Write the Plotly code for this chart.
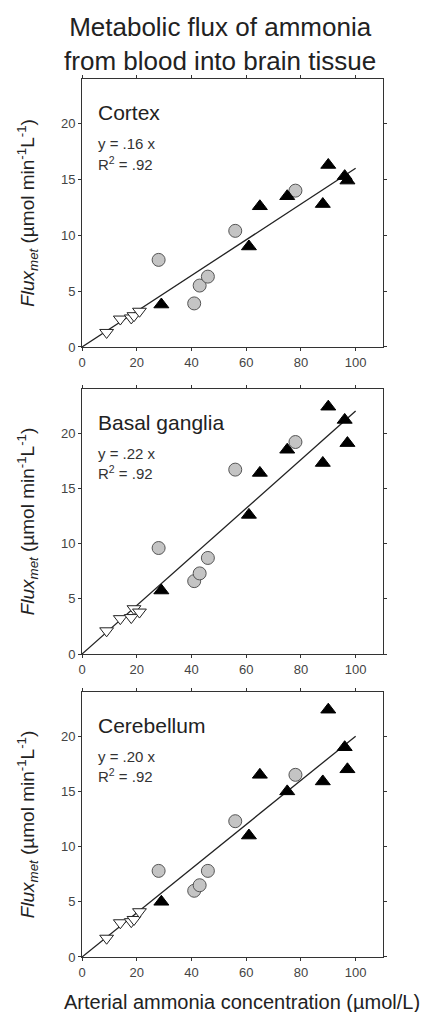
import plotly.graph_objects as go

# ---- data ----
regions = ["Cortex", "Basal ganglia", "Cerebellum"]
slopes = [0.16, 0.22, 0.20]
slope_labels = ["y = .16 x", "y = .22 x", "y = .20 x"]
r2_labels = ["R<sup>2</sup> = .92", "R<sup>2</sup> = .92", "R<sup>2</sup> = .92"]

x_open = [9, 14, 18, 19, 21]
y_open = [
    [1.3, 2.5, 2.6, 2.8, 3.2],
    [2.1, 3.2, 3.3, 4.1, 3.8],
    [1.7, 3.1, 3.2, 3.4, 4.1],
]

x_circ = [28, 41, 43, 46, 56, 78]
y_circ = [
    [7.8, 3.9, 5.5, 6.3, 10.4, 14.0],
    [9.6, 6.6, 7.3, 8.7, 16.7, 19.2],
    [7.8, 6.0, 6.5, 7.8, 12.3, 16.5],
]

x_tri = [29, 61, 65, 75, 88, 90, 96, 97]
y_tri = [
    [3.8, 9.0, 12.6, 13.5, 12.8, 16.3, 15.3, 14.9],
    [5.75, 12.6, 16.4, 18.5, 17.3, 22.4, 21.2, 19.1],
    [5.0, 11.0, 16.5, 15.0, 15.9, 22.4, 19.0, 17.0],
]

fit_x = [0, 100]
x_ticks = [0, 20, 40, 60, 80, 100]
y_ticks = [0, 5, 10, 15, 20]

# ---- layout constants (page has an 8px body margin) ----
W, H = 426, 1004
ML, MR, MT, MB = 74, 51, 71, 55
domains = [[0.6948, 1.0], [0.3451, 0.6469], [0.0, 0.3018]]
FONT = "Liberation Sans, Arial, Helvetica, sans-serif"
AX = "#333333"

fig = go.Figure()

for i in range(3):
    xa = "x" if i == 0 else f"x{i+1}"
    ya = "y" if i == 0 else f"y{i+1}"
    fig.add_trace(go.Scatter(
        x=fit_x, y=[slopes[i] * v for v in fit_x], mode="lines",
        line=dict(color="#222222", width=1.3), xaxis=xa, yaxis=ya,
        showlegend=False, hoverinfo="skip"))
    fig.add_trace(go.Scatter(
        x=x_open, y=y_open[i], mode="markers", xaxis=xa, yaxis=ya,
        marker=dict(symbol="triangle-down", size=12, color="white",
                    line=dict(color="#222222", width=1)),
        showlegend=False))
    fig.add_trace(go.Scatter(
        x=x_circ, y=y_circ[i], mode="markers", xaxis=xa, yaxis=ya,
        marker=dict(symbol="circle", size=13, color="#c4c4c4",
                    line=dict(color="#555555", width=1)),
        showlegend=False))
    fig.add_trace(go.Scatter(
        x=x_tri, y=y_tri[i], mode="markers", xaxis=xa, yaxis=ya,
        marker=dict(symbol="triangle-up", size=13, color="black",
                    line=dict(color="black", width=1)),
        showlegend=False))

    axis_common = dict(
        showline=True, linecolor=AX, linewidth=1, mirror="ticks",
        ticks="outside", ticklen=3, tickcolor=AX, showgrid=False,
        zeroline=False, tickfont=dict(family=FONT, size=13, color="#444444"),
    )
    xkey = "xaxis" if i == 0 else f"xaxis{i+1}"
    ykey = "yaxis" if i == 0 else f"yaxis{i+1}"
    xcfg = dict(axis_common, range=[0, 110], tickvals=x_ticks,
                anchor=ya, domain=[0, 1])
    ycfg = dict(axis_common, range=[0, 24], tickvals=y_ticks,
                anchor=xa, domain=domains[i],
                title=dict(text="<i>Flux</i><sub><i>met</i></sub> (µmol min<sup>-1</sup>L<sup>-1</sup>)",
                           font=dict(family=FONT, size=19, color="#222222"),
                           standoff=21))
    fig.layout[xkey] = xcfg
    fig.layout[ykey] = ycfg

    xd = "x domain" if i == 0 else f"x{i+1} domain"
    fig.add_annotation(text=regions[i], xref=xd, yref=ya, x=0.045, y=21.0,
                       xanchor="left", yanchor="middle", showarrow=False,
                       font=dict(family=FONT, size=21, color="#222222"))
    fig.add_annotation(text=slope_labels[i], xref=xd, yref=ya, x=0.045, y=18.2,
                       xanchor="left", yanchor="middle", showarrow=False,
                       font=dict(family=FONT, size=15, color="#333333"))
    fig.add_annotation(text=r2_labels[i], xref=xd, yref=ya, x=0.045, y=16.4,
                       xanchor="left", yanchor="middle", showarrow=False,
                       font=dict(family=FONT, size=15, color="#333333"))

fig.add_annotation(text="Arterial ammonia concentration (µmol/L)",
                   xref="paper", yref="paper", x=0.53, y=-0.0513,
                   xanchor="center", yanchor="middle", showarrow=False,
                   font=dict(family=FONT, size=20, color="#222222"))

fig.update_layout(
    width=W, height=H,
    margin=dict(l=ML, r=MR, t=MT, b=MB, autoexpand=False),
    paper_bgcolor="white", plot_bgcolor="white",
    title=dict(text="Metabolic flux of ammonia<br>from blood into brain tissue",
               x=0.498, xanchor="center", xref="container",
               y=1 - 28 / H, yanchor="middle", yref="container",
               font=dict(family=FONT, size=26, color="#222222")),
)

fig.write_html("out.html")
